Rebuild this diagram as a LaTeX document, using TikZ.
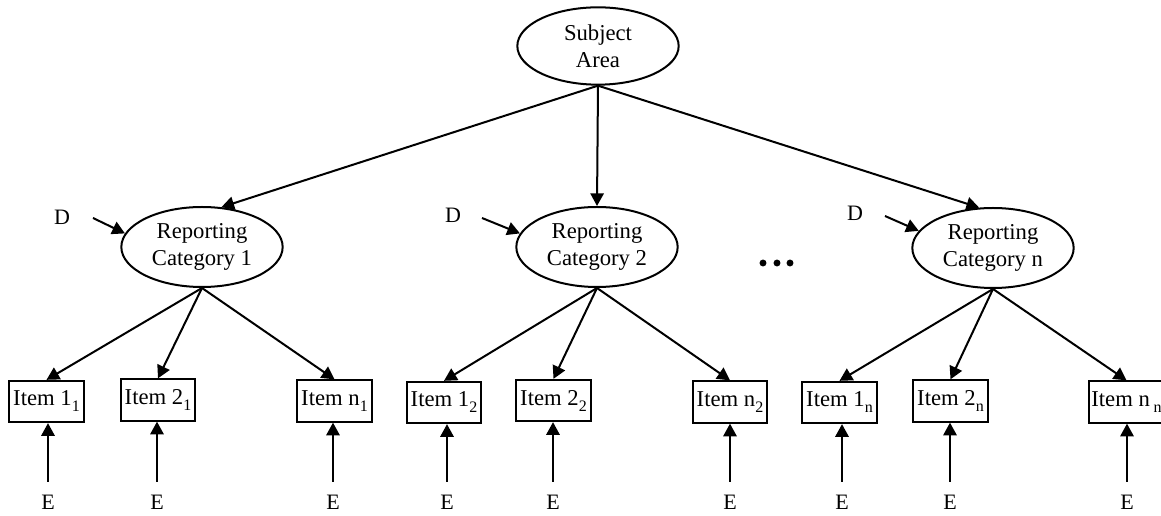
\documentclass[tikz,border=0pt]{standalone}
\usepackage{fontspec}
\setmainfont{Liberation Serif}
\usetikzlibrary{shapes.geometric,arrows.meta}
\newcommand{\subs}[1]{\raisebox{-4.5pt}{\fontsize{12}{13}\selectfont #1}}
\begin{document}
\begin{tikzpicture}[x=0.75pt,y=-0.75pt,
  ell/.style={ellipse, draw, line width=1.5pt, minimum width=121pt, minimum height=60pt, inner sep=0pt, align=center, font=\fontsize{17}{20}\selectfont},
  itembox/.style={rectangle, draw, line width=1.5pt, minimum width=56pt, minimum height=31pt, inner sep=1pt, font=\fontsize{17}{20}\selectfont},
  lbl/.style={font=\fontsize{16.5}{20}\selectfont, inner sep=0pt},
  arr/.style={line width=1.5pt, -{Triangle[length=9.5pt,width=10pt]}}]
\useasboundingbox (0,0) rectangle (1161,516);
\clip (0,0) rectangle (1161,516);
% top
\node[ell, minimum height=58pt] (subj) at (598,46) {Subject\\Area};
\node[ell] (c1) at (202,247) {Reporting\\Category 1};
\node[ell] (c2) at (597,247) {Reporting\\Category 2};
\node[ell] (cn) at (993,248) {Reporting\\Category n};
\draw[arr] (subj.south) -- (c1.64);
\draw[arr] (subj.south) -- (c2.north);
\draw[arr] (subj.south) -- (cn.109);
% D labels
\node[lbl] (d1) at (62,217) {D};
\node[lbl] (d2) at (453,215) {D};
\node[lbl] (dn) at (855,213) {D};
\coordinate (d1s) at (93,218);
\coordinate (d2s) at (482,218);
\coordinate (dns) at (885,216);
\draw[arr] (d1s) -- (c1.170);
\draw[arr] (d2s) -- (c2.170);
\draw[arr] (dns) -- (cn.167);
% dots
\foreach \x in {763,777,790} \fill (\x,263) circle (2.6pt);
% items
\node[itembox] (i11) at (46.5,401.5) {Item 1\subs{1}};
\node[itembox] (i21) at (158,400) {Item 2\subs{1}};
\node[itembox] (in1) at (334.5,401) {Item n\subs{1}};
\node[itembox] (i12) at (444,402.5) {Item 1\subs{2}};
\node[itembox] (i22) at (553.5,400.5) {Item 2\subs{2}};
\node[itembox] (in2) at (730,402) {Item n\subs{2}};
\node[itembox] (i1n) at (839.5,402.5) {Item 1\subs{n}};
\node[itembox] (i2n) at (950.5,401) {Item 2\subs{n}};
\node[itembox] (inn) at (1126.5,402) {Item n\,\subs{n}};
\draw[arr] (c1.south) -- (i11.north);
\draw[arr] (c1.south) -- (i21.north);
\draw[arr] (c1.south) -- (in1.north);
\draw[arr] (c2.south) -- (i12.north);
\draw[arr] (c2.south) -- (i22.north);
\draw[arr] (c2.south) -- (in2.north);
\draw[arr] (cn.south) -- (i1n.north);
\draw[arr] (cn.south) -- (i2n.north);
\draw[arr] (cn.south) -- (inn.north);
% E labels and arrows
\foreach \x/\n in {48/i11,157/i21,333/in1,447/i12,553/i22,730/in2,842/i1n,950/i2n,1127/inn}{
  \node[lbl] (e\n) at (\x,502) {E};
  \coordinate (es\n) at (\x,482);
  \draw[arr] (es\n) -- (es\n |- \n.south);
}
\end{tikzpicture}
\end{document}
